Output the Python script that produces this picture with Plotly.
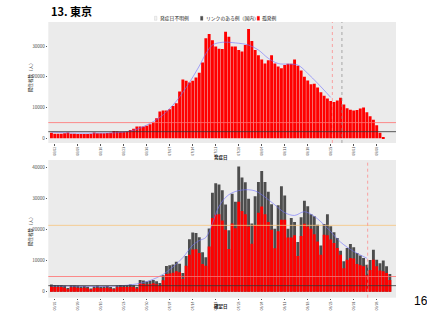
import plotly.graph_objects as go
import pandas as pd

START = "2022-06-01"

# Top panel: cases by onset date (発症日), from 06/01
onset_cases = [1800, 1500, 1500, 1500, 1600, 1900, 1500, 1500, 1400, 1400,
               1400, 1400, 1500, 1900, 1600, 1600, 1600, 1700, 1800, 2400,
               2300, 2100, 2100, 2200, 2700, 3100, 3800, 3800, 3800, 4100,
               4600, 5100, 6500, 8700, 9000, 9000, 9400, 10500, 11400, 15200,
               19100, 18700, 18100, 18700, 19800, 21300, 24600, 32500, 33900, 31900,
               29800, 29100, 29000, 34600, 33000, 29800, 29800, 28700, 28200, 30300,
               35500, 31600, 28700, 27000, 25600, 24300, 25400, 27000, 24300, 23300,
               22800, 23800, 24200, 24200, 25600, 23600, 22000, 20000, 18800, 17600,
               17700, 16500, 15000, 13800, 12900, 12100, 11800, 12300, 13200, 11000,
               9800, 9300, 9000, 9200, 9700, 10000, 8500, 7200, 6000, 4200,
               1800, 400]

# Bottom panel: cases by confirmation date (確定日), from 06/01
confirmed_total = [2300, 2200, 2100, 2100, 1900, 1200, 2000, 2000, 1900, 1700,
                   1800, 1600, 1000, 1700, 1900, 1600, 1700, 1800, 1500, 1100,
                   2000, 2200, 2100, 2100, 2300, 2100, 1500, 3800, 3600, 3300,
                   3500, 3800, 3400, 2800, 5300, 8300, 8500, 8800, 9700, 9000,
                   6000, 11500, 16900, 19100, 18900, 17600, 12700, 11100, 20400, 31900,
                   35000, 34600, 32700, 28100, 19800, 31600, 29000, 40400, 36800, 35300,
                   30000, 22000, 30800, 35400, 38900, 35400, 32200, 28200, 20300, 27900,
                   34000, 31000, 20300, 23800, 22500, 16000, 24000, 29300, 27600, 25000,
                   24300, 21600, 14900, 21800, 25000, 21100, 19200, 17300, 13200, 9800,
                   14100, 15400, 14300, 12500, 11700, 10900, 8700, 10200, 13500, 10300,
                   9200, 10100, 8200, 5700]
confirmed_isolated = [1600, 1500, 1500, 1500, 1300, 800, 1400, 1400, 1300, 1200,
                      1300, 1100, 700, 1200, 1300, 1100, 1200, 1300, 1000, 800,
                      1400, 1500, 1500, 1500, 1600, 1500, 1000, 2700, 2500, 2300,
                      2500, 2700, 2400, 1900, 3700, 5700, 5900, 6100, 6600, 6300,
                      4200, 8400, 11900, 13600, 13700, 12500, 8900, 8400, 14600, 23800,
                      24800, 25000, 23000, 20000, 13800, 22000, 20500, 29000, 26000, 25000,
                      21000, 15500, 21500, 25500, 27500, 25000, 22500, 20000, 14000, 19500,
                      23200, 23200, 17500, 17500, 18200, 11500, 18000, 21900, 21000, 20300,
                      18500, 16200, 11900, 18400, 18200, 16800, 15700, 14100, 11900, 7600,
                      10300, 10900, 10700, 8900, 8500, 8200, 5300, 7000, 10300, 8200,
                      6800, 6600, 6000, 3800]

# Smoothed trend lines (blue)
trend_top_dates = ["2022-06-01", "2022-06-08", "2022-06-15", "2022-06-22", "2022-06-26",
                   "2022-06-30", "2022-07-04", "2022-07-08", "2022-07-12", "2022-07-16",
                   "2022-07-18", "2022-07-20", "2022-07-23", "2022-07-27", "2022-07-31",
                   "2022-08-03", "2022-08-06", "2022-08-09", "2022-08-12", "2022-08-15",
                   "2022-08-18", "2022-08-21", "2022-08-25"]
trend_top_vals = [2000, 1700, 1700, 1900, 2600, 4300, 6800, 10800, 16500, 23500,
                  27500, 30300, 31200, 31000, 30300, 28700, 26000, 24300, 24100, 23800,
                  21100, 17900, 13300]
trend_bot_dates = ["2022-06-01", "2022-06-08", "2022-06-15", "2022-06-22", "2022-06-27",
                   "2022-07-01", "2022-07-05", "2022-07-08", "2022-07-11", "2022-07-14",
                   "2022-07-16", "2022-07-18", "2022-07-20", "2022-07-22", "2022-07-25",
                   "2022-07-29", "2022-08-02", "2022-08-05", "2022-08-08", "2022-08-11",
                   "2022-08-14", "2022-08-17", "2022-08-20", "2022-08-24", "2022-08-28",
                   "2022-09-01", "2022-09-05"]
trend_bot_vals = [1900, 1800, 1700, 1900, 2500, 3600, 5600, 8000, 11000, 15000,
                  16500, 17500, 22000, 27500, 31300, 32800, 32500, 30500, 28000, 25500,
                  24600, 25800, 24300, 20500, 16000, 13000, 10800]

# Reference lines
top_hlines = [(5100, "#FF7070"), (2150, "#333333")]
bot_hlines = [(21400, "#F8C47E"), (4900, "#FF7070"), (1950, "#333333")]
top_vlines = [("2022-08-25 12:00", "#FF8080"), ("2022-08-28 10:00", "#888888")]
bot_vlines = [("2022-09-05 06:00", "#FF8080")]

tick_dates = ["2022-06-02", "2022-06-09", "2022-06-16", "2022-06-23", "2022-06-30",
              "2022-07-07", "2022-07-14", "2022-07-21", "2022-07-28", "2022-08-04",
              "2022-08-11", "2022-08-18", "2022-08-25", "2022-09-01", "2022-09-08"]
tick_text = ["06/02", "06/09", "06/16", "06/23", "06/30", "07/07", "07/14", "07/21",
             "07/28", "08/04", "08/11", "08/18", "08/25", "09/01", "09/08"]
top_yticks = [0, 10000, 20000, 30000]
top_ytext = ["0", "10000", "20000", "30000"]
bot_yticks = [0, 10000, 20000, 30000, 40000]
bot_ytext = ["0", "10000", "20000", "30000", "40000"]

legend_items = [("発症日不明例", "#F2F2F2"), ("リンクのある例（国内）", "#4D4D4D"), ("孤発例", "#FF0000")]

onset_dates = pd.date_range(START, periods=len(onset_cases), freq="D")
conf_dates = pd.date_range(START, periods=len(confirmed_total), freq="D")

W, H = 427, 320
def px(x):
    return x / W
def py(y):
    return 1 - y / H

RED = "#FF0000"
GRAY = "#4D4D4D"
FONT = "Noto Sans CJK JP, Noto Sans, sans-serif"

fig = go.Figure()
fig.add_trace(go.Bar(x=onset_dates, y=onset_cases, marker_color=RED, marker_line_width=0,
                     xaxis="x", yaxis="y", showlegend=False))
fig.add_trace(go.Scatter(x=trend_top_dates, y=trend_top_vals, mode="lines",
                         line=dict(color="rgba(110,110,255,0.75)", width=0.8, shape="spline"),
                         xaxis="x", yaxis="y", showlegend=False))
fig.add_trace(go.Bar(x=conf_dates, y=confirmed_total, marker_color=GRAY, marker_line_width=0,
                     xaxis="x2", yaxis="y2", showlegend=False))
fig.add_trace(go.Bar(x=conf_dates, y=confirmed_isolated, marker_color=RED, marker_line_width=0,
                     xaxis="x2", yaxis="y2", showlegend=False))
fig.add_trace(go.Scatter(x=trend_bot_dates, y=trend_bot_vals, mode="lines",
                         line=dict(color="rgba(110,110,255,0.75)", width=0.8, shape="spline"),
                         xaxis="x2", yaxis="y2", showlegend=False))

xdom = [px(48.3), px(396)]
xrange_ = ["2022-05-31 01:00", "2022-09-13 21:00"]
xaxis_common = dict(showgrid=False, zeroline=False, showline=False, ticks="outside",
                    ticklen=1.5, tickwidth=0.5, tickcolor="#555555",
                    tickfont=dict(size=3.4, color="#4D4D4D", family=FONT))
yaxis_common = dict(showgrid=False, zeroline=False, showline=False, ticks="outside",
                    ticklen=1.5, tickwidth=0.5, tickcolor="#555555",
                    tickfont=dict(size=4.6, color="#4D4D4D", family=FONT))
fig.update_layout(
    width=W, height=H, margin=dict(l=0, r=0, t=0, b=0),
    paper_bgcolor="white", plot_bgcolor="#EBEBEB",
    barmode="overlay", bargap=0.12, showlegend=False,
    font=dict(family=FONT),
    xaxis=dict(domain=xdom, anchor="y", type="date", range=xrange_,
               tickvals=tick_dates, ticktext=tick_text, tickangle=-90, **xaxis_common),
    yaxis=dict(domain=[py(143), py(22)], anchor="x", range=[-1530, 37800],
               tickvals=top_yticks, ticktext=top_ytext, **yaxis_common),
    xaxis2=dict(domain=xdom, anchor="y2", type="date", range=xrange_,
                tickvals=tick_dates, ticktext=tick_text, tickangle=-90, **xaxis_common),
    yaxis2=dict(domain=[py(297.7), py(160)], anchor="x2", range=[-1935, 42480],
                tickvals=bot_yticks, ticktext=bot_ytext, **yaxis_common),
)

shapes = []
for val, col in top_hlines:
    shapes.append(dict(type="line", xref="x domain", yref="y", x0=0, x1=1, y0=val, y1=val,
                       line=dict(color=col, width=0.8), layer="above"))
for val, col in bot_hlines:
    shapes.append(dict(type="line", xref="x2 domain", yref="y2", x0=0, x1=1, y0=val, y1=val,
                       line=dict(color=col, width=0.8), layer="above"))
for d, col in top_vlines:
    shapes.append(dict(type="line", xref="x", yref="y domain", x0=d, x1=d, y0=0, y1=1,
                       line=dict(color=col, width=0.7, dash="dot"), layer="above"))
for d, col in bot_vlines:
    shapes.append(dict(type="line", xref="x2", yref="y2 domain", x0=d, x1=d, y0=0, y1=1,
                       line=dict(color=col, width=0.7, dash="dot"), layer="above"))

annotations = [
    dict(text="<b>13. 東京</b>", x=px(49), y=py(11), xref="paper", yref="paper",
         xanchor="left", yanchor="middle", showarrow=False,
         font=dict(size=11, color="black", family=FONT)),
    dict(text="16", x=px(421), y=py(301), xref="paper", yref="paper",
         xanchor="center", yanchor="middle", showarrow=False,
         font=dict(size=12, color="black", family="Liberation Sans, Arial")),
    dict(text="陽性者数（人）", x=px(30), y=py(76), xref="paper", yref="paper",
         xanchor="center", yanchor="middle",
         textangle=-90, showarrow=False, font=dict(size=4.5, color="#222", family=FONT)),
    dict(text="陽性者数（人）", x=px(30), y=py(230), xref="paper", yref="paper",
         xanchor="center", yanchor="middle",
         textangle=-90, showarrow=False, font=dict(size=4.5, color="#222", family=FONT)),
    dict(text="<b>発症日</b>", x=px(221), y=py(157), xref="paper", yref="paper",
         showarrow=False, font=dict(size=4.5, color="#222", family=FONT)),
    dict(text="<b>確定日</b>", x=px(221), y=py(312), xref="paper", yref="paper",
         showarrow=False, font=dict(size=4.5, color="#222", family=FONT)),
]
leg_x = [155.7, 201.7, 258.3]
for (label, col), lx in zip(legend_items, leg_x):
    shapes.append(dict(type="rect", xref="paper", yref="paper", x0=px(lx - 1.2), x1=px(lx + 1.2),
                       y0=py(20.3), y1=py(16.3), fillcolor=col,
                       line=dict(color="#BBBBBB" if col == "#F2F2F2" else col, width=0.3)))
    annotations.append(dict(text=label, x=px(lx + 2), y=py(18.3), xref="paper", yref="paper",
                            xanchor="left", yanchor="middle", showarrow=False,
                            font=dict(size=4.8, color="#222", family=FONT)))

fig.update_layout(shapes=shapes, annotations=annotations)
fig.write_html("out.html")
